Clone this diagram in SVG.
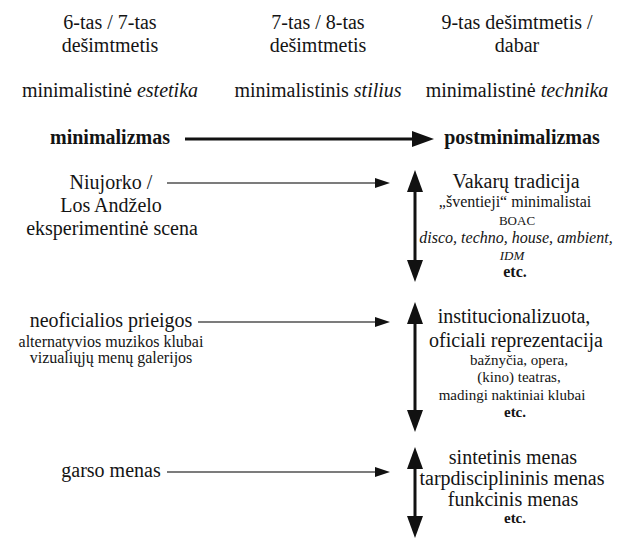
<svg xmlns="http://www.w3.org/2000/svg" width="618" height="538" viewBox="0 0 618 538">
<defs>
<marker id="hThin" markerUnits="userSpaceOnUse" markerWidth="15" markerHeight="10" refX="0" refY="5" orient="auto">
<path d="M0,0 L15,5 L0,10 z" fill="#111"/>
</marker>
<marker id="hBold" markerUnits="userSpaceOnUse" markerWidth="22" markerHeight="16" refX="0" refY="8" orient="auto-start-reverse">
<path d="M0,0 L22,8 L0,16 z" fill="#111"/>
</marker>
</defs>
<rect width="618" height="538" fill="#fff"/>

<g id="header-col1" font-family="Liberation Serif" font-size="20" fill="#141414" text-anchor="middle">
<text x="110" y="29">6-tas / 7-tas</text>
<text x="110" y="52">dešimtmetis</text>
</g>
<g id="header-col2" font-family="Liberation Serif" font-size="20" fill="#141414" text-anchor="middle">
<text x="318" y="29">7-tas / 8-tas</text>
<text x="318" y="52">dešimtmetis</text>
</g>
<g id="header-col3" font-family="Liberation Serif" font-size="20" fill="#141414" text-anchor="middle">
<text x="517" y="29">9-tas dešimtmetis /</text>
<text x="517" y="52">dabar</text>
</g>

<g id="estetika" font-family="Liberation Serif" font-size="20" fill="#141414" text-anchor="middle"><text x="110" y="97">minimalistinė <tspan font-style="italic">estetika</tspan></text></g>
<g id="stilius" font-family="Liberation Serif" font-size="20" fill="#141414" text-anchor="middle"><text x="318" y="97">minimalistinis <tspan font-style="italic">stilius</tspan></text></g>
<g id="technika" font-family="Liberation Serif" font-size="20" fill="#141414" text-anchor="middle"><text x="517" y="97">minimalistinė <tspan font-style="italic">technika</tspan></text></g>

<g id="minimalizmas" font-family="Liberation Serif" font-size="20" font-weight="bold" fill="#141414" text-anchor="middle"><text x="110" y="144">minimalizmas</text></g>
<g id="postminimalizmas" font-family="Liberation Serif" font-size="20" font-weight="bold" fill="#141414" text-anchor="middle"><text x="522" y="144">postminimalizmas</text></g>

<g id="niujorko" font-family="Liberation Serif" font-size="20" fill="#141414" text-anchor="middle">
<text x="111" y="189">Niujorko /</text>
<text x="111" y="212">Los Andželo</text>
<text x="112" y="235">eksperimentinė scena</text>
</g>
<g id="vakaru" font-family="Liberation Serif" font-size="16" fill="#141414" text-anchor="middle">
<text x="516" y="188" font-size="20">Vakarų tradicija</text>
<text x="515" y="207">„šventieji“ minimalistai</text>
<text x="517" y="225" font-size="13">BOAC</text>
<text x="516" y="243" font-style="italic">disco, techno, house, ambient,</text>
<text x="512" y="260" font-size="13" font-style="italic">IDM</text>
<text x="515" y="277" font-weight="bold">etc.</text>
</g>

<g id="neoficialios" font-family="Liberation Serif" font-size="16" fill="#141414" text-anchor="middle">
<text x="111" y="327" font-size="20">neoficialios prieigos</text>
<text x="111" y="347">alternatyvios muzikos klubai</text>
<text x="111" y="363">vizualiųjų menų galerijos</text>
</g>
<g id="institucionalizuota" font-family="Liberation Serif" font-size="15" fill="#141414" text-anchor="middle">
<text x="514" y="323" font-size="20">institucionalizuota,</text>
<text x="516" y="347" font-size="20">oficiali reprezentacija</text>
<text x="519" y="365">bažnyčia, opera,</text>
<text x="519" y="382">(kino) teatras,</text>
<text x="512" y="400">madingi naktiniai klubai</text>
<text x="515" y="417" font-weight="bold">etc.</text>
</g>

<g id="garso" font-family="Liberation Serif" font-size="20" fill="#141414" text-anchor="middle"><text x="111" y="477">garso menas</text></g>
<g id="sintetinis" font-family="Liberation Serif" font-size="20" fill="#141414" text-anchor="middle">
<text x="513" y="464">sintetinis menas</text>
<text x="512" y="485">tarpdisciplininis menas</text>
<text x="513" y="506">funkcinis menas</text>
<text x="515" y="523" font-size="15" font-weight="bold">etc.</text>
</g>

<g id="connectors" fill="none">
<g stroke="#111" stroke-width="3">
<line x1="185" y1="139" x2="412" y2="139" marker-end="url(#hBold)"/>
<line x1="415" y1="192" x2="415" y2="260" marker-start="url(#hBold)" marker-end="url(#hBold)"/>
<line x1="415" y1="324" x2="415" y2="410" marker-start="url(#hBold)" marker-end="url(#hBold)"/>
<line x1="415" y1="469" x2="415" y2="516" marker-start="url(#hBold)" marker-end="url(#hBold)"/>
</g>
<g stroke="#505050" stroke-width="1.3">
<line x1="167" y1="183" x2="375" y2="183" marker-end="url(#hThin)"/>
<line x1="198" y1="322" x2="375" y2="322" marker-end="url(#hThin)"/>
<line x1="167" y1="472" x2="375" y2="472" marker-end="url(#hThin)"/>
</g>
</g>
</svg>
